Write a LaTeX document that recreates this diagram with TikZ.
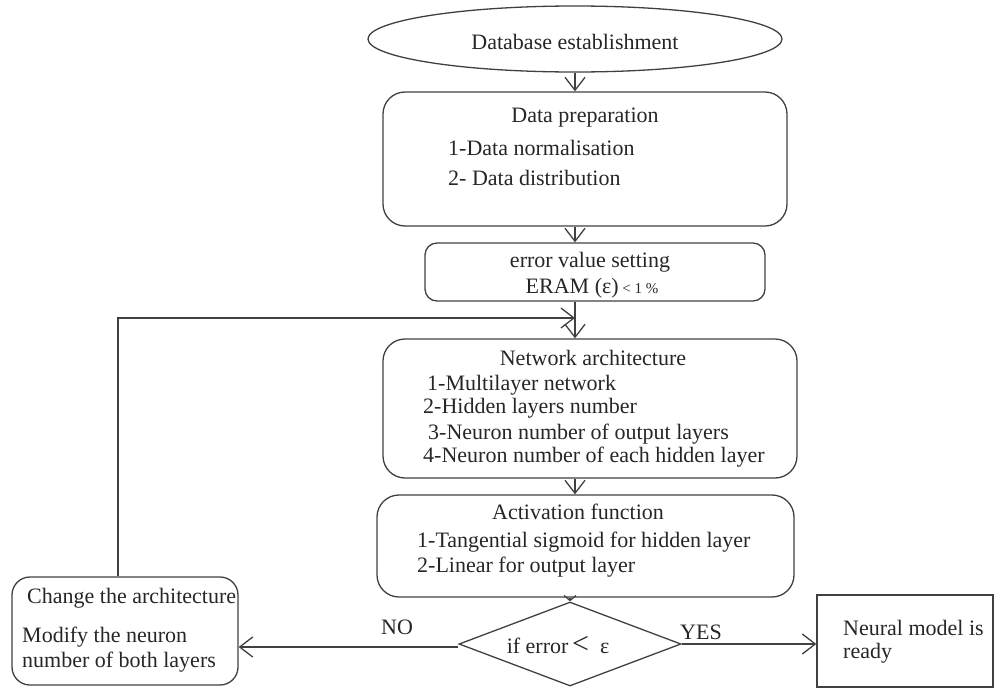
\documentclass[tikz,border=0pt]{standalone}
\usepackage{fontspec}
\setmainfont{Liberation Serif}
\usetikzlibrary{arrows.meta,shapes.geometric}
\begin{document}
\begin{tikzpicture}[x=1pt,y=-1pt,
  every node/.style={font=\fontsize{22}{26}\selectfont, text=black!85, inner sep=0pt},
  shp/.style={draw=black!75, line width=1.3pt},
  rbox/.style={shp, rectangle, rounded corners=22pt},
  ebox/.style={shp, rectangle, rounded corners=12pt},
  sbox/.style={shp, rectangle},
  arr/.style={draw=black!75, line width=1.3pt, -{Straight Barb[length=13pt,width=20pt,line width=1.3pt]}},
  sarr/.style={draw=black!75, line width=1.3pt, -{Straight Barb[length=5pt,width=12pt,line width=1.3pt]}},
  lt/.style={anchor=west},
]
\useasboundingbox (0,0) rectangle (995,688);
% shapes
\node[shp, ellipse, minimum width=414pt, minimum height=66pt] (db) at (575,39) {};
\node[rbox, minimum width=404pt, minimum height=134pt] (prep) at (585,159) {};
\node[ebox, minimum width=340pt, minimum height=58pt] (err) at (595,272) {};
\node[rbox, minimum width=414pt, minimum height=139pt] (net) at (590,408.5) {};
\node[rbox, minimum width=417pt, minimum height=102pt] (act) at (585.5,546) {};
\node[shp, diamond, minimum width=222pt, minimum height=84pt] (dec) at (570,644) {};
\node[rbox, rounded corners=18pt, minimum width=226pt, minimum height=108pt] (chg) at (125,631) {};
\node[sbox, minimum width=176pt, minimum height=92pt] (nm) at (905,641) {};
% texts
\node (tdb) at (575,42) {Database establishment};
\node (tprep) at (585,118) {Data preparation};
\node[lt] (tp1) at (448,148) {1-Data normalisation};
\node[lt] (tp2) at (448,178) {2- Data distribution};
\node (terr1) at (590,262) {error value setting};
\node (terr2) at (592,288) {ERAM (ε)\,{\fontsize{15}{15}\selectfont< 1 \%}};
\node (tnet) at (593,358) {Network architecture};
\node[lt] (tn1) at (427,385) {1-Multilayer network};
\node[lt] (tn2) at (423,408) {2-Hidden layers number};
\node[lt] (tn3) at (428,434) {3-Neuron number of output layers};
\node[lt] (tn4) at (423,457) {4-Neuron number of each hidden layer};
\node (tact) at (578,512) {Activation function};
\node[lt] (ta1) at (417,542) {1-Tangential sigmoid for hidden layer};
\node[lt] (ta2) at (417,567) {2-Linear for output layer};
\node (tdec) at (558,645) {if error\,{\fontsize{30}{30}\selectfont <}\ \ ε};
\node (tno) at (397,627) {NO};
\node (tyes) at (701,632) {YES};
\node[lt] (tc1) at (27,598) {Change the architecture};
\node[lt] (tc2) at (22,637) {Modify the neuron};
\node[lt] (tc3) at (22,662) {number of both layers};
\node[lt] (tm1) at (843,628) {Neural model is};
\node[lt] (tm2) at (843,653) {ready};
% connectors
\coordinate (colx) at (575,0);
\coordinate (fb) at (118,318);
\coordinate (merge) at (575,318);
\draw[arr] (db.south -| colx) -- (prep.north -| colx);
\draw[arr] (prep.south -| colx) -- (err.north -| colx);
\draw[arr] (err.south -| colx) -- (net.north -| colx);
\draw[arr] (chg.north -| fb) |- (merge);
\draw[arr] (net.south -| colx) -- (act.north -| colx);
\draw[sarr] (act.south -| dec.north) -- (dec.north);
\draw[arr] (dec.west |- 0,647) -- (chg.east |- 0,647);
\draw[arr] (dec.east) -- (nm.west |- dec.east);
\end{tikzpicture}
\end{document}
